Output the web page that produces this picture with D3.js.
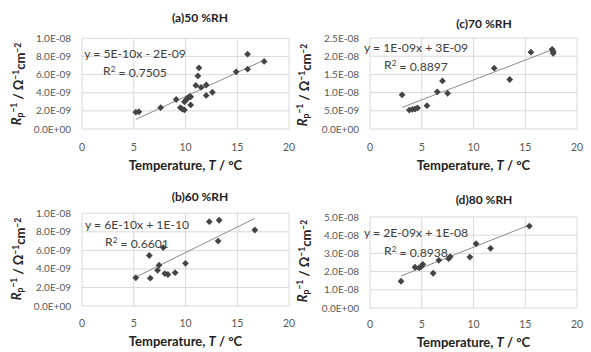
<!DOCTYPE html>
<html><head><meta charset="utf-8">
<script src="https://cdn.jsdelivr.net/npm/d3@7"></script>
<style>
body{margin:0;background:#fff;}
svg{display:block;}
text{font-family:Lato,"Liberation Sans",sans-serif;}
</style></head>
<body>
<svg id="chart" width="591" height="352"></svg>
<script>
// ---- data ----
const tempA = [5.2,5.5,7.6,9.1,9.5,9.7,9.9,9.9,10.05,10.2,10.4,10.5,10.5,11.0,11.2,11.3,11.5,12.0,12.0,12.6,14.9,16.0,16.0,17.6];
const valA  = [1.85e-9,1.9e-9,2.35e-9,3.25e-9,2.35e-9,2.2e-9,2.1e-9,3.0e-9,3.2e-9,3.4e-9,3.6e-9,3.55e-9,2.65e-9,4.8e-9,5.85e-9,6.75e-9,4.6e-9,4.85e-9,3.7e-9,4.05e-9,6.3e-9,8.25e-9,6.6e-9,7.45e-9];
const tempB = [5.2,6.5,6.6,7.3,7.45,7.85,8.0,8.3,9.0,10.0,12.3,13.25,13.15,16.7];
const valB  = [3.05e-9,5.45e-9,3.0e-9,3.85e-9,4.4e-9,6.3e-9,3.5e-9,3.4e-9,3.6e-9,4.6e-9,9.1e-9,9.25e-9,7.0e-9,8.2e-9];
const tempC = [3.1,3.8,4.1,4.35,4.6,5.5,6.5,7.0,7.5,12.0,13.5,15.55,17.6,17.7,17.7];
const valC  = [9.4e-9,5.2e-9,5.4e-9,5.5e-9,5.8e-9,6.4e-9,10.2e-9,13.2e-9,9.8e-9,16.7e-9,13.6e-9,21.1e-9,21.9e-9,21.3e-9,20.8e-9];
const tempD = [3.0,4.35,4.75,4.95,5.1,6.1,6.65,7.6,7.75,9.65,10.25,11.65,15.4];
const valD  = [14.7e-9,22.4e-9,22.1e-9,22.8e-9,24.0e-9,19.1e-9,26.2e-9,27.1e-9,28.2e-9,28.0e-9,35.3e-9,32.8e-9,45.0e-9];
// trendline coefficients [slope, intercept]
const trendA = [5.28e-10,-1.69e-9];
const trendB = [5.51e-10,0.25e-9];
const trendC = [1.092e-9,2.55e-9];
const trendD = [2.26e-9,10.8e-9];
const titles = ["(a)50 %RH","(b)60 %RH","(c)70 %RH","(d)80 %RH"];
const eqs = ["y = 5E-10x - 2E-09","y = 6E-10x + 1E-10","y = 1E-09x + 3E-09","y = 2E-09x + 1E-08"];
const r2s = ["0.7505","0.6601","0.8897","0.8938"];
const xTicks = [0,5,10,15,20];
const yTicksA = [0,2e-9,4e-9,6e-9,8e-9,1e-8];
const yLabelsA = ["0.0E+00","2.0E-09","4.0E-09","6.0E-09","8.0E-09","1.0E-08"];
const yTicksC = [0,5e-9,1e-8,1.5e-8,2e-8,2.5e-8];
const yLabelsC = ["0.0E+00","5.0E-09","1.0E-08","1.5E-08","2.0E-08","2.5E-08"];
const yTicksD = [0,1e-8,2e-8,3e-8,4e-8,5e-8];
const yLabelsD = ["0.0E+00","1.0E-08","2.0E-08","3.0E-08","4.0E-08","5.0E-08"];

const panels = [
 {t:tempA,v:valA,tr:trendA,title:titles[0],eq:eqs[0],r2:r2s[0],yt:yTicksA,yl:yLabelsA,
  x0:82,x1:289,y0:129,y1:38.3,titleX:200,titleY:18,tickY:147,xtY:165,ytX:16,ytY:84,eqX:135,eqY:54,r2Y:71},
 {t:tempB,v:valB,tr:trendB,title:titles[1],eq:eqs[1],r2:r2s[1],yt:yTicksA,yl:yLabelsA,
  x0:82,x1:289,y0:306,y1:213.3,titleX:200,titleY:197,tickY:323,xtY:341,ytX:16,ytY:259,eqX:137,eqY:225,r2Y:242},
 {t:tempC,v:valC,tr:trendC,title:titles[2],eq:eqs[2],r2:r2s[2],yt:yTicksC,yl:yLabelsC,
  x0:370,x1:577,y0:129,y1:38,titleX:484,titleY:24,tickY:147,xtY:165,ytX:302,ytY:85,eqX:416,eqY:48,r2Y:65},
 {t:tempD,v:valD,tr:trendD,title:titles[3],eq:eqs[3],r2:r2s[3],yt:yTicksD,yl:yLabelsD,
  x0:370,x1:577,y0:308,y1:217,titleX:484,titleY:200,tickY:324,xtY:342,ytX:302,ytY:261,eqX:416,eqY:233,r2Y:251}
];

const svg = d3.select("#chart");
const grid = "#d9d9d9", tickCol = "#595959";

panels.forEach(p=>{
  const yMax = p.yt[p.yt.length-1];
  const x = d3.scaleLinear().domain([0,20]).range([p.x0,p.x1]);
  const y = d3.scaleLinear().domain([0,yMax]).range([p.y0,p.y1]);
  const g = svg.append("g");
  // gridlines
  g.selectAll(".hg").data(p.yt).enter().append("line")
    .attr("x1",p.x0).attr("x2",p.x1).attr("y1",d=>y(d)).attr("y2",d=>y(d))
    .attr("stroke",grid).attr("stroke-width",1);
  g.selectAll(".vg").data(xTicks).enter().append("line")
    .attr("y1",p.y0).attr("y2",p.y1).attr("x1",d=>x(d)).attr("x2",d=>x(d))
    .attr("stroke",grid).attr("stroke-width",1);
  // tick labels
  g.selectAll(".xl").data(xTicks).enter().append("text")
    .attr("x",d=>x(d)).attr("y",p.tickY).attr("dy","0.35em").attr("text-anchor","middle")
    .attr("font-size",10.5).attr("fill",tickCol).text(d=>d);
  g.selectAll(".yl").data(p.yt).enter().append("text")
    .attr("x",p.x0-11).attr("y",d=>y(d)).attr("dy","0.35em").attr("text-anchor","end")
    .attr("font-size",10).attr("fill",tickCol).text((d,i)=>p.yl[i]);
  // trendline
  const tx = d3.extent(p.t);
  g.append("line").attr("x1",x(tx[0])).attr("x2",x(tx[1]))
    .attr("y1",y(p.tr[0]*tx[0]+p.tr[1])).attr("y2",y(p.tr[0]*tx[1]+p.tr[1]))
    .attr("stroke","#8a8a8a").attr("stroke-width",1);
  // points
  const r = 3.4;
  g.selectAll(".pt").data(p.t).enter().append("path")
    .attr("d",(d,i)=>{const cx=x(d), cy=y(p.v[i]); return `M${cx},${cy-r}L${cx+r},${cy}L${cx},${cy+r}L${cx-r},${cy}Z`;})
    .attr("fill","#444");
  // equation
  g.append("text").attr("x",p.eqX).attr("y",p.eqY).attr("dy","0.35em").attr("text-anchor","middle")
    .attr("font-size",12.2).attr("fill","#404040").text(p.eq);
  const rt = g.append("text").attr("x",p.eqX).attr("y",p.r2Y).attr("dy","0.35em").attr("text-anchor","middle")
    .attr("font-size",12.2).attr("fill","#404040");
  rt.append("tspan").text("R");
  rt.append("tspan").attr("dy","-0.4em").attr("font-size",8).text("2");
  rt.append("tspan").attr("dy","0.4em").text(" = "+p.r2);
  // title
  g.append("text").attr("x",p.titleX).attr("y",p.titleY).attr("dy","0.35em").attr("text-anchor","middle")
    .attr("font-size",12).attr("font-weight","bold").attr("fill","#222").text(p.title);
  // x title
  const xt = g.append("text").attr("x",(p.x0+p.x1)/2).attr("y",p.xtY).attr("dy","0.35em").attr("text-anchor","middle")
    .attr("font-size",13).attr("font-weight","bold").attr("fill","#222");
  xt.append("tspan").text("Temperature, ");
  xt.append("tspan").attr("font-style","italic").text("T");
  xt.append("tspan").text(" / \u00B0C");
  // y title
  const yt = g.append("text").attr("transform",`translate(${p.ytX},${p.ytY}) rotate(-90)`)
    .attr("dy","0.35em").attr("text-anchor","middle")
    .attr("font-size",13).attr("font-weight","bold").attr("fill","#222");
  yt.append("tspan").attr("font-style","italic").text("R");
  yt.append("tspan").attr("dy","0.3em").attr("font-size",8.5).text("p");
  yt.append("tspan").attr("dy","-0.75em").attr("font-size",8.5).text("\u22121");
  yt.append("tspan").attr("dy","0.45em").text(" / \u03A9");
  yt.append("tspan").attr("dy","-0.45em").attr("font-size",8.5).text("\u22121");
  yt.append("tspan").attr("dy","0.45em").text("cm");
  yt.append("tspan").attr("dy","-0.45em").attr("font-size",8.5).text("\u22122");
});
</script>
</body></html>
